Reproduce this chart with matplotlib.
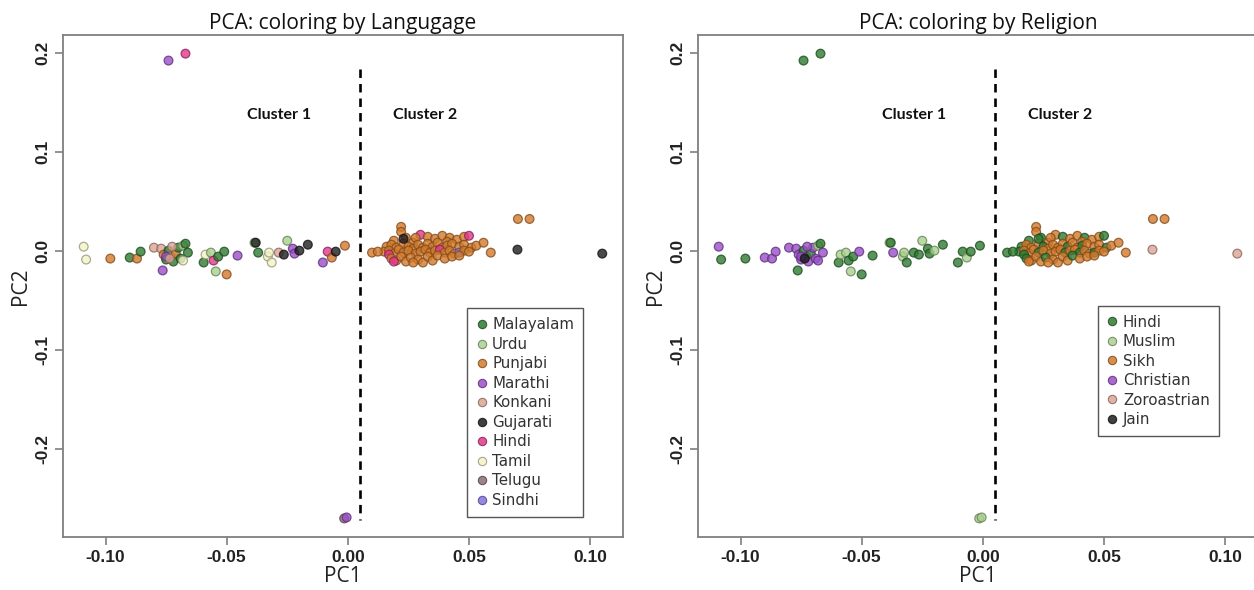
import matplotlib
matplotlib.use("Agg")
import matplotlib.pyplot as plt
from matplotlib.colors import to_rgb
from matplotlib.lines import Line2D

# ---- PCA scores: PC1, PC2, spoken language and religion of each sample ----
pc1 = [
    # cluster 1
    -0.109, -0.108, -0.098, -0.090, -0.087, -0.0855, -0.080, -0.0764,
    -0.077, -0.076, -0.075, -0.074, -0.073, -0.072, -0.071, -0.070,
    -0.069, -0.068, -0.067, -0.066, -0.075, -0.0725, -0.068, -0.0735,
    -0.0595, -0.0587, -0.0565, -0.0554, -0.0535, -0.051, -0.0545, -0.050,
    -0.0455, -0.0385, -0.038, -0.037, -0.033, -0.0325, -0.0314, -0.0285,
    -0.0264, -0.025, -0.0227, -0.022, -0.020, -0.0165, -0.0103, -0.0083,
    -0.0066, -0.005, -0.0012,
    # outliers
    -0.074, -0.067, -0.0015, -0.0005,
    # cluster 2
    0.019, 0.022, 0.022, 0.024, 0.027, 0.030, 0.033, 0.036, 0.039, 0.042,
    0.045, 0.048, 0.050, 0.028, 0.041,
    0.016, 0.018, 0.020, 0.023, 0.025, 0.027, 0.029, 0.031, 0.033, 0.035,
    0.037, 0.039, 0.041, 0.043, 0.046, 0.048, 0.051, 0.053, 0.056,
    0.015, 0.017, 0.019, 0.021, 0.023, 0.025, 0.028, 0.030, 0.032, 0.034,
    0.036, 0.038, 0.040, 0.042, 0.044, 0.046, 0.048, 0.050, 0.059,
    0.017, 0.018, 0.020, 0.022, 0.024, 0.026, 0.029, 0.031, 0.033, 0.035,
    0.037, 0.040, 0.043, 0.046, 0.027, 0.019,
    0.010, 0.0124, 0.023, 0.0702, 0.075, 0.070, 0.105,
]
pc2 = [
    # cluster 1
    0.004, -0.009, -0.008, -0.007, -0.008, -0.001, 0.003, -0.020,
    0.002, -0.004, -0.009, 0.000, -0.006, -0.011, -0.003, 0.003,
    -0.008, 0.005, 0.007, -0.002, -0.006, 0.004, -0.010, -0.008,
    -0.012, -0.004, -0.002, -0.010, -0.006, -0.001, -0.021, -0.024,
    -0.005, 0.008, 0.008, -0.002, -0.006, -0.002, -0.012, -0.002,
    -0.004, 0.010, 0.002, -0.003, 0.000, 0.006, -0.012, -0.001,
    -0.007, -0.001, 0.005,
    # outliers
    0.192, 0.199, -0.2705, -0.2695,
    # cluster 2
    0.010, 0.024, 0.019, 0.013, 0.008, 0.016, 0.014, 0.012, 0.015, 0.013,
    0.011, 0.014, 0.015, 0.013, 0.009,
    0.004, 0.006, 0.003, 0.007, 0.004, 0.002, 0.006, 0.003, 0.007, 0.004,
    0.008, 0.003, 0.005, 0.007, 0.004, 0.006, 0.003, 0.005, 0.008,
    -0.001, 0.000, -0.003, 0.001, -0.002, 0.000, -0.003, -0.001, 0.001, -0.002,
    0.000, 0.001, -0.002, 0.000, -0.003, -0.002, 0.000, -0.001, -0.002,
    -0.004, -0.008, -0.010, -0.006, -0.011, -0.007, -0.009, -0.012, -0.006, -0.010,
    -0.005, -0.008, -0.006, -0.005, -0.012, -0.011,
    -0.002, -0.001, 0.012, 0.032, 0.032, 0.001, -0.003,
]
language = [
    # cluster 1
    "Tamil", "Tamil", "Punjabi", "Malayalam", "Punjabi", "Malayalam", "Konkani", "Marathi",
    "Konkani", "Punjabi", "Malayalam", "Malayalam", "Konkani", "Malayalam", "Punjabi", "Malayalam",
    "Malayalam", "Urdu", "Malayalam", "Malayalam", "Marathi", "Konkani", "Tamil", "Konkani",
    "Malayalam", "Tamil", "Urdu", "Hindi", "Malayalam", "Malayalam", "Urdu", "Punjabi",
    "Marathi", "Urdu", "Gujarati", "Malayalam", "Tamil", "Tamil", "Tamil", "Konkani",
    "Gujarati", "Urdu", "Marathi", "Marathi", "Gujarati", "Gujarati", "Marathi", "Hindi",
    "Punjabi", "Gujarati", "Punjabi",
    # outliers
    "Marathi", "Hindi", "Telugu", "Marathi",
    # cluster 2
    "Punjabi", "Punjabi", "Punjabi", "Punjabi", "Punjabi", "Hindi", "Punjabi", "Punjabi", "Punjabi", "Punjabi",
    "Punjabi", "Punjabi", "Hindi", "Punjabi", "Punjabi",
    "Punjabi", "Punjabi", "Punjabi", "Punjabi", "Punjabi", "Punjabi", "Punjabi", "Punjabi", "Punjabi", "Punjabi",
    "Punjabi", "Punjabi", "Punjabi", "Punjabi", "Punjabi", "Punjabi", "Punjabi", "Punjabi", "Punjabi",
    "Punjabi", "Punjabi", "Punjabi", "Punjabi", "Punjabi", "Punjabi", "Punjabi", "Punjabi", "Punjabi", "Punjabi",
    "Punjabi", "Hindi", "Punjabi", "Punjabi", "Punjabi", "Sindhi", "Punjabi", "Punjabi", "Punjabi",
    "Hindi", "Punjabi", "Punjabi", "Punjabi", "Punjabi", "Punjabi", "Punjabi", "Punjabi", "Punjabi", "Punjabi",
    "Punjabi", "Punjabi", "Punjabi", "Punjabi", "Punjabi", "Hindi",
    "Punjabi", "Punjabi", "Gujarati", "Punjabi", "Punjabi", "Gujarati", "Gujarati",
]
religion = [
    # cluster 1
    "Christian", "Hindi", "Hindi", "Christian", "Christian", "Christian", "Christian", "Hindi",
    "Christian", "Christian", "Christian", "Hindi", "Christian", "Christian", "Hindi", "Christian",
    "Christian", "Muslim", "Hindi", "Christian", "Christian", "Christian", "Christian", "Jain",
    "Hindi", "Muslim", "Muslim", "Hindi", "Hindi", "Christian", "Muslim", "Hindi",
    "Hindi", "Muslim", "Hindi", "Christian", "Muslim", "Muslim", "Hindi", "Hindi",
    "Hindi", "Muslim", "Hindi", "Hindi", "Muslim", "Hindi", "Hindi", "Hindi",
    "Muslim", "Hindi", "Hindi",
    # outliers
    "Hindi", "Hindi", "Muslim", "Muslim",
    # cluster 2
    "Hindi", "Sikh", "Sikh", "Hindi", "Sikh", "Sikh", "Hindi", "Sikh", "Sikh", "Hindi",
    "Sikh", "Sikh", "Hindi", "Sikh", "Sikh",
    "Hindi", "Sikh", "Sikh", "Sikh", "Hindi", "Sikh", "Sikh", "Sikh", "Sikh", "Hindi",
    "Sikh", "Sikh", "Hindi", "Sikh", "Sikh", "Sikh", "Hindi", "Sikh", "Sikh",
    "Hindi", "Sikh", "Sikh", "Sikh", "Hindi", "Sikh", "Sikh", "Sikh", "Sikh", "Hindi",
    "Sikh", "Sikh", "Hindi", "Sikh", "Sikh", "Hindi", "Sikh", "Sikh", "Sikh",
    "Hindi", "Hindi", "Sikh", "Sikh", "Sikh", "Hindi", "Sikh", "Sikh", "Sikh", "Sikh",
    "Hindi", "Sikh", "Sikh", "Sikh", "Sikh", "Sikh",
    "Hindi", "Hindi", "Hindi", "Sikh", "Sikh", "Zoroastrian", "Zoroastrian",
]

language_order = ["Malayalam", "Urdu", "Punjabi", "Marathi", "Konkani",
                  "Gujarati", "Hindi", "Tamil", "Telugu", "Sindhi"]
language_colors = ["#2f7a31", "#a9d18e", "#d27a2c", "#9a4fc9", "#dba594",
                   "#1e1e1e", "#e0388b", "#f3f3c6", "#8c6e74", "#8373e0"]
religion_order = ["Hindi", "Muslim", "Sikh", "Christian", "Zoroastrian", "Jain"]
religion_colors = ["#2f7a31", "#a9d18e", "#d27a2c", "#9a4fc9", "#dba594", "#1e1e1e"]

xticks = [-0.10, -0.05, 0.00, 0.05, 0.10]
xtick_labels = ["-0.10", "-0.05", "0.00", "0.05", "0.10"]
yticks = [-0.2, -0.1, 0.0, 0.1, 0.2]
ytick_labels = ["-0.2", "-0.1", "0.0", "0.1", "0.2"]

titles = ["PCA: coloring by Langugage", "PCA: coloring by Religion"]
cluster_labels = ["Cluster 1", "Cluster 2"]
cluster_label_x = [-0.0285, 0.032]
cluster_label_y = 0.137
split_x = 0.005
split_y = [0.183, -0.272]


def darker(c, f=0.62):
    r, g, b = to_rgb(c)
    return (r * f, g * f, b * f)


def limits(v, frac=0.04):
    lo, hi = min(v), max(v)
    pad = (hi - lo) * frac
    return lo - pad, hi + pad


fig = plt.figure(figsize=(12.54, 5.90), dpi=100)
axes = [fig.add_axes([0.0502, 0.0898, 0.4466, 0.8508]),
        fig.add_axes([0.5566, 0.0898, 0.4466, 0.8508])]

groupings = [(language, language_order, language_colors, (0.929, 0.040)),
             (religion, religion_order, religion_colors, (0.930, 0.201))]

for ax, title, (groups, order, colors, anchor) in zip(axes, titles, groupings):
    cmap = dict(zip(order, colors))
    face = [cmap[g] for g in groups]
    edge = [darker(cmap[g]) for g in groups]
    ax.scatter(pc1, pc2, s=40, c=face, edgecolors=edge, linewidths=0.9,
               alpha=0.8, zorder=3)

    ax.plot([split_x, split_x], split_y, color="black", lw=1.9,
            ls=(0, (3.2, 2.3)), zorder=4)
    for lab, lx in zip(cluster_labels, cluster_label_x):
        ax.text(lx, cluster_label_y, lab, ha="center", va="center",
                fontsize=11.5, fontweight="bold", family="Lato", color="#111111")

    ax.set_xlim(*limits(pc1))
    ax.set_ylim(*limits(pc2))
    ax.set_xticks(xticks)
    ax.set_xticklabels(xtick_labels)
    ax.set_yticks(yticks)
    ax.set_yticklabels(ytick_labels, rotation=90, va="center")
    ax.tick_params(direction="out", length=6, width=1.2, color="#7f7f7f",
                   labelsize=12.5, labelcolor="#222222", pad=3)
    for lbl in ax.get_xticklabels() + ax.get_yticklabels():
        lbl.set_fontfamily("Liberation Sans")
        lbl.set_fontweight("bold")
    for sp in ax.spines.values():
        sp.set_color("#7f7f7f")
        sp.set_linewidth(1.3)

    ax.set_title(title, fontsize=15, family="Open Sans", color="#111111", pad=4)
    ax.set_xlabel("PC1", fontsize=15, family="Open Sans", color="#222222", labelpad=1)
    ax.set_ylabel("PC2", fontsize=15, family="Open Sans", color="#222222", labelpad=3)

    handles = [Line2D([], [], ls="none", marker="o", markersize=6,
                      markerfacecolor=c, markeredgecolor=darker(c),
                      markeredgewidth=0.8, alpha=0.85) for c in colors]
    leg = ax.legend(handles, order, loc="lower right", bbox_to_anchor=anchor,
                    fontsize=10.8, frameon=True, fancybox=False, framealpha=1,
                    edgecolor="#555555", handlelength=0.7, handletextpad=0.35,
                    labelspacing=0.3, borderpad=0.6, borderaxespad=0)
    leg.get_frame().set_linewidth(1.0)
    for t in leg.get_texts():
        t.set_color("#333333")
        t.set_family("DejaVu Sans")

fig.savefig("out.png", dpi=100)
